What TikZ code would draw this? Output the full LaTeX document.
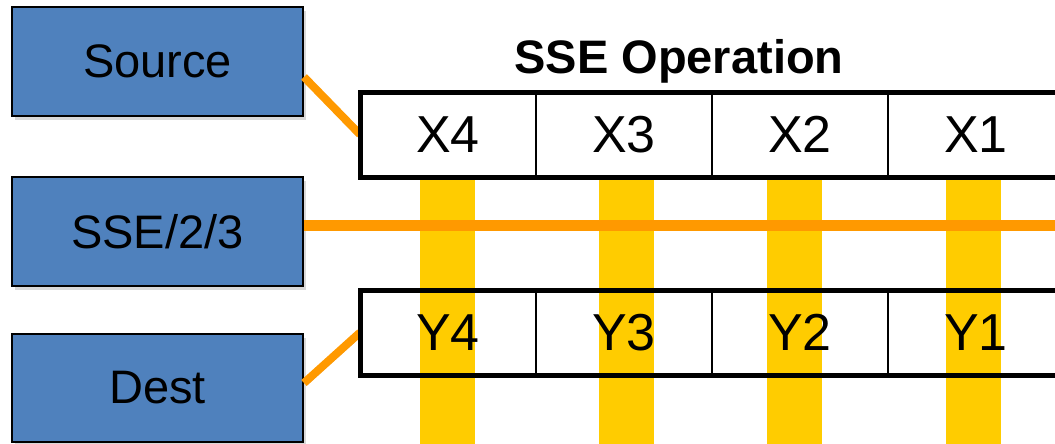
\documentclass[tikz,border=0pt]{standalone}
\usepackage{fontspec}
\setmainfont{Liberation Sans}
\usetikzlibrary{positioning,shadows,backgrounds}

\definecolor{boxblue}{RGB}{79,129,189}
\definecolor{laneyellow}{RGB}{255,204,0}
\definecolor{wireorange}{RGB}{255,153,0}

\begin{document}
\begin{tikzpicture}[x=1pt, y=-1pt,
	every node/.style={font=\fontsize{47}{56}\selectfont},
	unit/.style={draw, line width=2pt, fill=boxblue, minimum width=291pt, minimum height=109pt,
		drop shadow={shadow xshift=3pt, shadow yshift=-4pt, opacity=0.3}},
	cell/.style={draw, line width=2pt, minimum width=176pt, minimum height=85pt, inner sep=0pt, outer sep=0pt,
		font=\fontsize{52}{60}\selectfont},
	wire/.style={draw=wireorange, line width=8pt,
		preaction={draw=black, opacity=0.25, transform canvas={shift={(2pt,-3pt)}}}},
	lane/.style={fill=laneyellow}]
	\useasboundingbox (0,0) rectangle (1055,444);
	\clip (0,0) rectangle (1055,444);

	% Units on the left:
	\node[unit] (src) at (157.5, 61.5) {Source};
	\node[unit] (sse) at (157.5, 231.5) {SSE/2/3};
	\node[unit, minimum height=108pt] (dst) at (157.5, 388) {Dest};

	\node[font=\fontsize{47}{56}\selectfont\bfseries] (title) at (679, 61) {SSE Operation};

	% Registers:
	\node[cell] (x4) at (448, 134.5) {X4};
	\node[cell, right=0pt of x4] (x3) {X3};
	\node[cell, right=0pt of x3] (x2) {X2};
	\node[cell, right=0pt of x2] (x1) {X1};
	\node[cell] (y4) at (448, 332.5) {Y4};
	\node[cell, right=0pt of y4] (y3) {Y3};
	\node[cell, right=0pt of y3] (y2) {Y2};
	\node[cell, right=0pt of y2] (y1) {Y1};

	% Lanes, behind everything:
	\begin{pgfonlayer}{background}
		\foreach \c/\dx in {x4/-0.5, x3/2, x2/-5.5, x1/-2.5}
			\fill[lane] ([xshift=\dx pt-27.5pt]\c.south) rectangle ++(55,270);
	\end{pgfonlayer}

	% Wires:
	\coordinate (busend) at (1060, 225);
	\draw[wireorange, line width=11pt] (sse.east |- busend) -- (busend);
	\draw[wire] ([yshift=-15.5pt]src.east) -- (x4.west);
	\draw[wire] ([yshift=5pt]dst.east) -- (y4.west);

	\draw[line width=5pt] (x4.north west) rectangle (x1.south east);
	\draw[line width=5pt] (y4.north west) rectangle (y1.south east);
\end{tikzpicture}
\end{document}
